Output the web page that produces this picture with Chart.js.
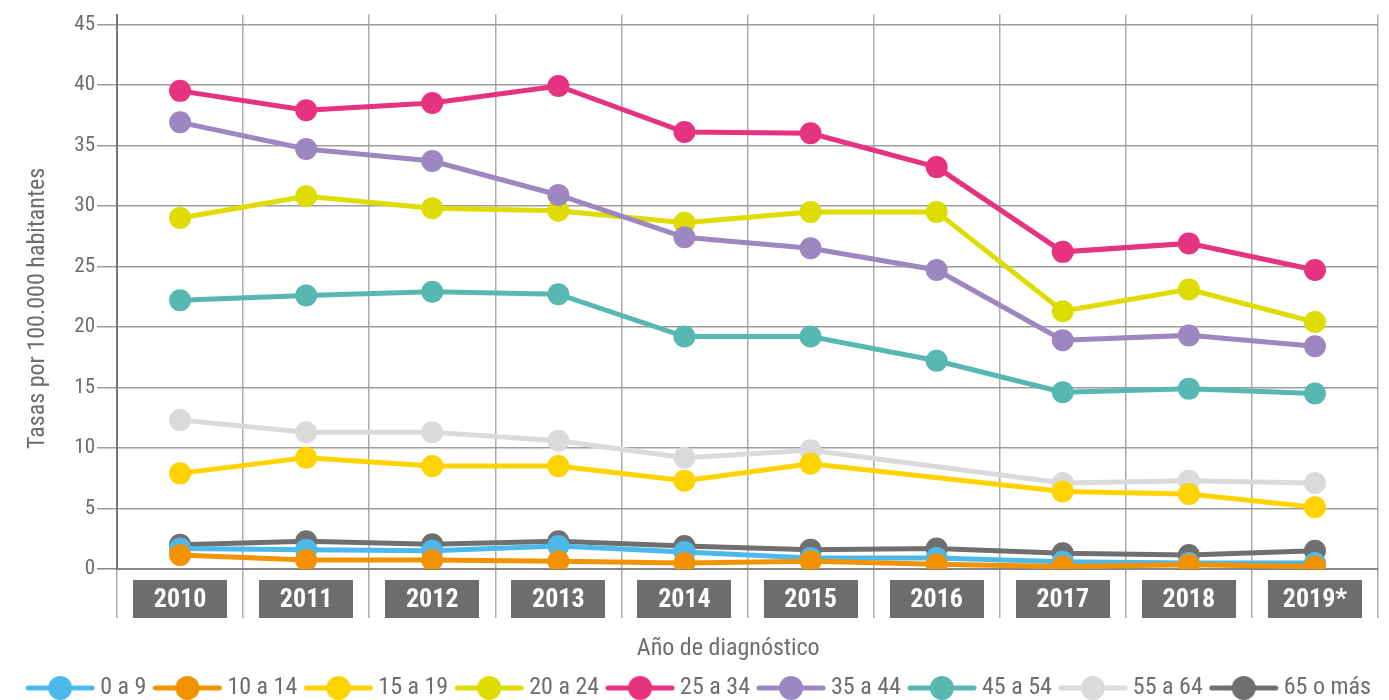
<!DOCTYPE html>
<html><head><meta charset="utf-8">
<style>html,body{margin:0;padding:0;background:#fff;overflow:hidden}#wrap{width:1389px;height:700px}</style>
<script src="https://cdn.jsdelivr.net/npm/chart.js@4.4.1/dist/chart.umd.min.js"></script>
</head><body><div id="wrap"><canvas id="c" width="1389" height="700"></canvas></div>
<script>
// ---- data ----
const years = ['2010','2011','2012','2013','2014','2015','2016','2017','2018','2019*'];
const groups = ['0 a 9','10 a 14','15 a 19','20 a 24','25 a 34','35 a 44','45 a 54','55 a 64','65 o más'];
const yTicks = [0,5,10,15,20,25,30,35,40,45];
const xTitle = 'Año de diagnóstico';
const yTitle = 'Tasas por 100.000 habitantes';
const s0a9   = [1.7, 1.6, 1.5, 1.9, 1.4, 0.9, 0.9, 0.6, 0.5, 0.5];
const s10a14 = [1.15, 0.75, 0.75, 0.65, 0.5, 0.65, 0.4, 0.2, 0.35, 0.2];
const s15a19 = [7.9, 9.2, 8.5, 8.5, 7.3, 8.7, null, 6.4, 6.2, 5.1];
const s20a24 = [29.0, 30.8, 29.8, 29.6, 28.6, 29.5, 29.5, 21.3, 23.1, 20.4];
const s25a34 = [39.5, 37.9, 38.5, 39.9, 36.1, 36.0, 33.2, 26.2, 26.9, 24.7];
const s35a44 = [36.9, 34.7, 33.7, 30.9, 27.4, 26.5, 24.7, 18.9, 19.3, 18.4];
const s45a54 = [22.2, 22.6, 22.9, 22.7, 19.2, 19.2, 17.2, 14.6, 14.9, 14.5];
const s55a64 = [12.3, 11.3, 11.3, 10.6, 9.2, 9.8, null, 7.1, 7.3, 7.1];
const s65    = [2.0, 2.3, 2.05, 2.3, 1.9, 1.6, 1.7, 1.3, 1.15, 1.5];
const series = [s0a9, s10a14, s15a19, s20a24, s25a34, s35a44, s45a54, s55a64, s65];

// ---- styles ----
const colors = ['#4DB9EA','#F39200','#FFD300','#DEDC00','#E6337F','#9C87C0','#56B8B1','#DADADA','#6F6F6F'];
const drawOrder = [6,5,4,3,2,1,0,7,8];
const txt = '#6d6d6d';
const FF = '"Roboto Condensed", "Liberation Sans Narrow", "DejaVu Sans Condensed", Roboto, sans-serif';
const pad = (s,n)=> s + ' '.repeat(n);

function icon(col){
  const cv=document.createElement('canvas'); cv.width=70; cv.height=26;
  const g=cv.getContext('2d');
  g.strokeStyle=col; g.lineWidth=5; g.lineCap='round';
  g.beginPath(); g.moveTo(3,13); g.lineTo(67,13); g.stroke();
  g.fillStyle=col; g.beginPath(); g.arc(35,13,12,0,Math.PI*2); g.fill();
  return cv;
}
const icons = colors.map(icon);

const labelBoxes = {
  id:'labelBoxes',
  beforeDraw(chart){
    const x=chart.scales.x, ctx=chart.ctx, ca=chart.chartArea;
    ctx.save(); ctx.fillStyle='#6d6d6d';
    x.ticks.forEach((t,i)=>{ const px=x.getPixelForTick(i); ctx.fillRect(Math.round(px-47), ca.bottom+11, 94, 38); });
    ctx.restore();
  }
};

new Chart(document.getElementById('c'), {
  type:'line',
  data:{
    labels: years,
    datasets: groups.map((g,i)=>({
      label:g, data:series[i], borderColor:colors[i], backgroundColor:colors[i],
      pointBackgroundColor:colors[i], pointBorderWidth:0, pointRadius:11, pointHoverRadius:11,
      borderWidth:5, order:drawOrder[i], spanGaps:true, tension:0
    }))
  },
  options:{
    responsive:false, animation:false,
    layout:{padding:{top:13,right:5,bottom:-10,left:0}},
    plugins:{
      tooltip:{enabled:false},
      legend:{
        position:'bottom', align:'end',
        labels:{
          usePointStyle:true, pointStyleWidth:56, padding:13, color:txt,
          font:{family:FF, size:24},
          sort:(a,b)=>a.datasetIndex-b.datasetIndex,
          generateLabels(chart){
            const items = Chart.defaults.plugins.legend.labels.generateLabels(chart);
            items.forEach(it=>{ it.pointStyle = icons[it.datasetIndex]; it.fontColor = txt; });
            return items;
          }
        }
      }
    },
    scales:{
      x:{
        offset:true,
        grid:{offset:true, color:'#ababab', lineWidth:1.5, tickLength:49, drawTicks:true},
        border:{color:'#888', width:2},
        ticks:{color:'#fff', padding:-33, font:{family:FF, size:26, weight:'bold'}, maxRotation:0, autoSkip:false},
        title:{display:true, text:pad(xTitle,7), color:txt, font:{family:FF, size:24}, padding:{top:0,bottom:0}},
        afterFit(s){ s.height = 94; }
      },
      y:{
        min:0, max:45.8,
        afterBuildTicks(s){ s.ticks = yTicks.map(v=>({value:v})); },
        grid:{color:(c)=>c.tick && c.tick.value===0 ? '#888' : '#9d9d9d', lineWidth:1.5, tickLength:20},
        border:{color:'#777', width:2},
        ticks:{color:txt, padding:2, font:{family:FF, size:21}},
        title:{display:true, text:pad(yTitle,6), color:txt, font:{family:FF, size:24}, padding:{top:24,bottom:0}},
        afterFit(s){ s.width = 117; }
      }
    }
  },
  plugins:[labelBoxes]
});
</script></body></html>
